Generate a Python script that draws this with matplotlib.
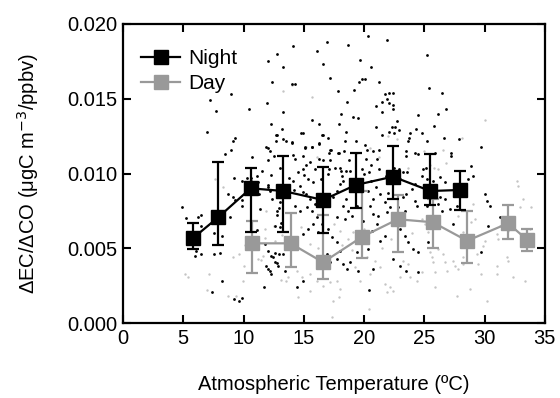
import matplotlib
matplotlib.use("Agg")
import matplotlib.pyplot as plt
import numpy as np

plt.rcParams['font.family'] = ['Liberation Sans', 'DejaVu Sans']

# Binned means with error bars, y in ugC m-3/ppbv
night_t = [5.8, 7.9, 10.6, 13.3, 16.6, 19.3, 22.4, 25.5, 28.0]
night_y = [0.00567, 0.00707, 0.00901, 0.00883, 0.00823, 0.00923, 0.00979, 0.00883, 0.00890]
night_lo = [0.00495, 0.00524, 0.00611, 0.00611, 0.00600, 0.00771, 0.00829, 0.00789, 0.00756]
night_hi = [0.00671, 0.01079, 0.01035, 0.01119, 0.01046, 0.01139, 0.01184, 0.01130, 0.01019]

day_t = [10.7, 13.9, 16.6, 19.85, 22.8, 25.7, 28.55, 31.95, 33.55]
day_y = [0.00533, 0.00533, 0.00406, 0.00577, 0.00694, 0.00674, 0.00550, 0.00667, 0.00555]
day_lo = [0.00337, 0.00373, 0.00292, 0.00437, 0.00477, 0.00500, 0.00403, 0.00560, 0.00484]
day_hi = [0.00680, 0.00738, 0.00722, 0.00885, 0.00856, 0.00830, 0.00751, 0.00789, 0.00629]

# Individual night samples (temperature, ratio x 1000)
night_pts_t = [
    12.74, 12.05, 13.3, 12.4, 9.0, 7.2, 7.7, 10.45, 11.97, 13.3, 7.0, 12.25, 13.2, 9.3, 9.15,
    9.0, 8.5, 12.7, 12.7, 13.5, 12.05, 12.2, 12.5, 10.7, 12.0,
    20.3, 21.9, 16.9, 14.1, 18.7, 16.1, 19.65, 16.6, 20.6, 17.2, 19.8, 20.1, 14.0, 14.3, 19.6,
    21.2, 19.15, 17.85, 21.7, 22.1, 22.4, 21.9, 22.1, 21.45, 21.0, 18.55, 22.4, 22.4, 21.5, 18.1,
    19.05, 19.5, 24.5, 15.65, 17.9, 16.3, 22.75, 21.0, 22.3, 22.55, 22.9, 24.3, 14.95, 18.5, 16.5,
    21.5, 22.1, 22.5, 23.85, 23.7, 23.65, 17.0, 18.45, 19.3, 14.0, 16.3, 15.7, 15.1, 20.07, 20.25,
    21.2, 20.75, 17.25, 17.1, 18.3, 17.9, 23.5, 23.45, 24.2, 24.5, 14.3, 14.95, 16.6, 17.15, 15.55,
    15.2, 18.75, 20.2, 21.1, 20.6, 14.95, 18.0, 18.1, 18.5, 19.8, 20.4, 22.9, 23.25, 17.1,
    25.2, 25.4, 26.5, 26.8, 26.1, 25.8, 24.8, 25.2, 26.6, 27.9, 29.7, 27.2, 27.2, 25.9, 24.85,
    25.1, 28.9,
    4.87, 5.2, 6.25, 6.47, 6.5, 7.55, 8.2, 8.9, 9.3, 9.15, 9.9, 9.9, 8.75, 9.25, 9.85, 10.25,
    10.6, 11.1, 10.65, 11.3, 11.35, 12.05, 12.2, 12.4, 12.75, 12.95, 13.0, 12.8, 12.6, 11.1,
    6.05, 5.97, 6.5, 7.55, 8.05, 11.8, 12.05, 12.25, 12.45, 12.6, 12.95, 13.25, 11.85, 12.0,
    12.2, 12.3, 12.6, 12.75, 12.9, 8.23, 7.4, 11.7, 9.2, 9.65, 9.9, 13.4, 13.0, 13.15,
    14.13, 14.68, 15.37, 15.78, 14.96, 15.51, 15.92, 15.23, 14.68, 15.65, 16.06, 16.48, 15.78,
    15.37, 14.96, 16.2, 17.03, 17.3, 17.72, 17.99, 16.89, 16.48, 17.17, 17.72, 18.27, 18.83,
    18.55, 19.52, 20.35, 20.62, 21.04, 20.48, 20.76, 21.31, 21.73, 22.14, 22.83, 23.39, 23.52,
    23.94, 24.21, 24.35, 22.97, 23.39, 23.66, 24.08, 24.49, 22.42, 22.97, 23.52, 24.49, 18.27,
    18.69, 18.96, 18.41, 17.72, 17.44, 17.72, 17.99, 18.27, 19.38, 19.93, 20.76, 21.17, 21.87,
    22.42, 20.43, 14.26, 14.96, 14.4, 20.76, 21.31, 21.73, 19.38,
    24.77, 25.18, 25.74, 26.29, 26.7, 26.29, 26.7, 27.12, 26.43, 27.67, 28.64, 29.05, 30.02,
    30.16, 30.43, 31.26, 30.3, 29.74, 25.32, 25.18, 27.39, 26.15,
    12.74, 13.3, 14.0, 14.8, 15.65, 16.3, 16.6, 17.2, 11.9, 15.1, 14.1, 17.85, 16.3,
    11.5, 12.3, 13.0, 13.8, 14.5, 15.0, 15.9, 16.4, 17.0, 17.6, 18.2, 18.8, 19.4, 20.0, 20.6,
    21.2, 21.8, 22.5, 23.0, 23.6, 24.2, 12.0, 14.2, 16.9, 19.0, 20.3, 22.0, 23.2, 11.2, 13.5,
    15.2, 18.5, 21.0,
]
night_pts_y = [
    18.0, 17.5, 17.1, 16.1, 15.3, 14.9, 14.2, 14.3, 14.7, 14.1, 12.8, 13.3, 13.0, 12.4, 12.2,
    11.6, 11.3, 12.6, 12.2, 12.2, 11.7, 11.5, 11.2, 11.1, 10.9,
    19.2, 18.9, 18.8, 18.5, 18.6, 18.2, 17.6, 17.3, 17.1, 16.4, 16.3, 16.3, 16.0, 16.0, 16.1,
    16.1, 15.6, 15.5, 15.3, 15.4, 15.4, 15.0, 14.7, 14.8, 14.5, 14.8, 14.6, 14.3, 14.1, 14.0,
    13.8, 13.7, 13.9, 13.6, 13.3, 13.3, 13.5, 13.1, 13.1, 13.1, 12.9, 13.0, 12.7, 12.8, 12.6,
    12.6, 12.8, 12.7, 12.7, 12.4, 12.2, 12.4, 12.2, 12.2, 12.1, 12.0, 11.8, 11.8, 11.9, 11.6,
    11.6, 11.5, 11.6, 11.4, 11.5, 11.4, 11.5, 11.2, 11.4, 11.3, 11.0, 11.2, 10.9, 10.9, 10.8,
    10.6, 10.9, 11.0, 11.0, 10.6, 10.3, 10.4, 10.2, 10.2, 10.3, 10.1, 10.3, 10.1, 10.3,
    17.9, 15.7, 15.4, 14.3, 14.0, 13.2, 12.7, 12.2, 12.4, 12.3, 11.8, 11.4, 11.2, 11.4, 10.3,
    10.4, 10.5,
    7.74, 7.0, 7.1, 7.2, 6.5, 6.0, 5.8, 7.1, 8.2, 8.4, 7.8, 8.2, 8.6, 9.7, 9.5, 9.7,
    9.7, 9.8, 9.5, 8.6, 7.6, 9.1, 8.8, 8.3, 7.5, 7.7, 8.1, 7.2, 6.5, 6.2,
    4.8, 4.5, 4.6, 4.6, 4.7, 5.3, 4.8, 4.5, 4.4, 4.7, 4.6, 4.6, 3.8, 3.6,
    3.5, 3.3, 4.1, 4.0, 3.8, 2.8, 2.1, 2.4, 1.6, 1.5, 1.7, 3.5, 6.4, 6.7,
    9.48, 9.19, 9.63, 9.41, 8.74, 8.30, 7.96, 7.74, 7.51, 7.47, 7.07, 6.62, 6.62,
    6.29, 5.95, 6.07, 6.29, 5.73, 5.40, 4.84, 4.62, 4.06, 4.06, 4.28, 3.95, 4.06,
    3.61, 3.50, 4.95, 6.18, 6.62, 7.85, 8.30, 8.63, 8.07, 7.74, 7.74, 7.51, 8.63,
    8.96, 8.18, 7.85, 6.29, 5.84, 5.40, 4.95, 4.73, 4.28, 3.84, 3.50, 3.39, 7.85,
    7.51, 7.18, 6.96, 7.07, 8.41, 8.85, 9.30, 9.52, 7.85, 6.85, 7.29, 7.18, 7.40,
    7.18, 2.21, 7.85, 2.83, 2.39, 3.61, 5.51, 5.84, 4.73,
    9.86, 9.63, 9.52, 9.74, 9.41, 8.41, 8.30, 7.63, 7.51, 7.85, 9.63, 9.86, 8.63,
    8.18, 7.85, 7.07, 6.51, 4.73, 5.40, 7.85, 6.62, 7.96,
    12.58, 12.29, 12.06, 12.69, 11.79, 12.02, 12.58, 11.57, 11.79, 11.69, 11.24, 11.35, 11.0,
    10.2, 9.9, 10.4, 9.7, 10.1, 9.9, 10.3, 9.6, 10.0, 10.4, 9.8, 10.2, 9.6, 10.0, 9.5,
    10.3, 9.8, 10.4, 9.6, 10.1, 9.3, 9.2, 8.9, 8.6, 8.9, 8.8, 8.7, 8.4, 9.4, 8.4,
    8.6, 8.3, 9.1,
]

# Individual day samples (temperature, ratio x 1000)
day_pts_t = [
    14.0, 15.65, 13.3, 22.7, 20.5, 15.2, 16.1, 21.2, 23.65, 19.4, 22.0,
    30.0, 28.1, 25.0, 26.55, 26.8, 25.8, 26.1, 25.45,
    5.15, 5.4, 7.15, 6.95, 8.75, 9.4, 9.97, 9.15, 10.05, 8.27, 7.6, 11.9, 11.6, 11.2, 11.45,
    13.15, 13.55, 13.7, 11.8, 12.6,
    14.4, 14.82, 15.51, 16.06, 16.61, 17.17, 17.72, 17.99, 17.44, 17.94, 14.54, 15.51, 17.99,
    18.69, 19.1, 20.21, 20.9, 21.31, 20.48, 21.73, 22.14, 21.87, 22.42, 22.97, 23.8, 24.35,
    23.25, 23.66, 20.37, 17.36, 19.24, 19.65,
    24.77, 25.04, 25.32, 25.46, 25.6, 25.74, 25.87, 26.15, 26.56, 26.7, 26.84, 27.39, 27.53,
    27.81, 28.22, 28.22, 28.91, 29.05, 29.19, 29.33, 29.47, 29.74, 29.88, 30.02, 30.99, 30.99,
    31.26, 31.95, 31.82, 31.95, 32.65, 32.78, 32.92, 33.2, 33.89, 32.37, 33.34, 28.78, 27.67,
    30.16, 25.87, 24.77, 30.99, 31.13, 33.75, 28.22, 27.81, 28.5,
    14.8, 15.5, 16.2, 17.5, 18.2, 19.0, 20.0, 21.5, 22.2, 23.3, 24.0, 13.2, 12.5, 11.8, 10.1, 9.6,
]
day_pts_y = [
    15.9, 15.1, 15.5, 12.3, 11.7, 11.8, 11.1, 11.1, 10.4, 11.4, 12.5,
    13.6, 12.4, 11.5, 11.6, 10.7, 10.4, 10.3, 10.6,
    3.3, 3.1, 3.3, 2.2, 1.8, 1.8, 2.8, 4.4, 3.8, 9.1, 9.6, 7.5, 4.5, 4.3, 4.2,
    2.9, 2.8, 3.1, 6.3, 5.5,
    3.50, 3.06, 3.28, 2.83, 2.50, 2.72, 2.83, 2.28, 1.49, 1.72, 1.72, 2.16, 6.18,
    5.62, 6.07, 4.39, 4.17, 3.72, 3.28, 2.61, 2.39, 2.05, 2.16, 3.06, 3.06, 2.83,
    4.17, 3.95, 0.94, 0.38, 3.72, 2.83,
    6.96, 6.62, 6.07, 4.73, 4.39, 4.06, 3.39, 4.95, 4.62, 4.06, 3.50, 4.17, 3.84,
    3.61, 4.39, 3.95, 6.73, 7.96, 6.96, 4.62, 3.95, 3.28, 5.17, 5.51, 3.84, 3.28,
    6.51, 6.18, 4.39, 4.17, 9.52, 9.19, 7.74, 8.30, 7.74, 3.06, 2.83, 2.28, 1.83,
    1.49, 2.39, 3.39, 5.95, 5.62, 6.29, 6.07, 7.18, 5.84,
    6.4, 5.3, 5.0, 6.6, 5.2, 4.9, 6.3, 5.0, 5.6, 6.8, 6.0, 5.9, 6.5, 5.7, 5.2, 4.6,
]

night_color = 'black'
day_color = '#999999'

fig = plt.figure(figsize=(5.6, 3.98), dpi=100)
ax = fig.add_axes([0.2196, 0.1884, 0.7534, 0.7513])

# raw samples
ax.scatter(day_pts_t, np.array(day_pts_y) / 1000, s=3, color='#c4c4c4', marker='o',
           linewidths=0, zorder=1)
ax.scatter(night_pts_t, np.array(night_pts_y) / 1000, s=4, color='black', marker='o',
           linewidths=0, zorder=2)

# binned means
def draw_series(t, y, lo, hi, color, label, z):
    y = np.array(y)
    yerr = [y - np.array(lo), np.array(hi) - y]
    ax.errorbar(t, y, yerr=yerr, fmt='none', ecolor=color, elinewidth=1.6,
                capsize=4, capthick=1.6, zorder=z)
    ax.plot(t, y, '-', color=color, lw=1.6, marker='s', markersize=9.5,
            markerfacecolor=color, markeredgecolor=color, label=label, zorder=z + 0.5)

draw_series(day_t, day_y, day_lo, day_hi, day_color, 'Day', 3)
draw_series(night_t, night_y, night_lo, night_hi, night_color, 'Night', 5)

ax.set_xlim(0, 35)
ax.set_ylim(0, 0.020)
ax.set_xticks(np.arange(0, 36, 5))
ax.set_yticks(np.arange(0, 0.0201, 0.005))
ax.set_yticklabels([f'{v:.3f}' for v in np.arange(0, 0.0201, 0.005)])
ax.tick_params(direction='in', length=6, width=1.5, top=True, right=True,
               labelsize=14.5, pad=4)
for s in ax.spines.values():
    s.set_linewidth(1.6)

ax.set_xlabel('Atmospheric Temperature (ºC)', fontsize=14.5, labelpad=20)
ax.set_ylabel('ΔEC/ΔCO (μgC m$^{-3}$/ppbv)', fontsize=14.5, labelpad=19)

handles, labels = ax.get_legend_handles_labels()
ax.legend(handles[::-1], labels[::-1], loc='upper left', frameon=False, fontsize=15,
          handlelength=1.9, borderaxespad=0.8, labelspacing=0.3, handletextpad=0.4,
          bbox_to_anchor=(-0.017, 1.0))

fig.savefig('out.png', dpi=100)
